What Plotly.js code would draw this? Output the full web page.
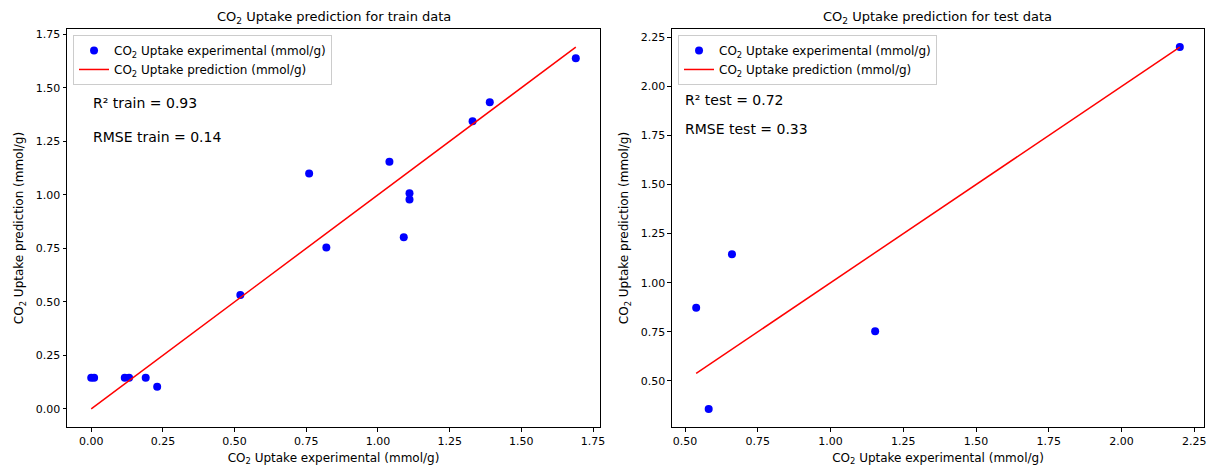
<!DOCTYPE html>
<html>
<head>
<meta charset="utf-8">
<script src="https://cdn.plot.ly/plotly-3.0.1.min.js"></script>
<style>
  html, body { margin: 0; padding: 0; background: #fff; }
  #chart { width: 1216px; height: 468px; }
</style>
</head>
<body>
<div id="chart"></div>
<script>
// Train set: experimental vs predicted CO2 uptake (mmol/g)
const trainExperimental = [0.00, 0.01, 0.117, 0.132, 0.19, 0.23, 0.52, 0.76, 0.82, 1.04, 1.09, 1.11, 1.11, 1.33, 1.39, 1.69];
const trainPredicted    = [0.145, 0.145, 0.145, 0.145, 0.145, 0.104, 0.532, 1.099, 0.754, 1.155, 0.802, 1.007, 0.978, 1.344, 1.432, 1.638];

// Test set
const testExperimental = [0.538, 0.581, 0.661, 1.153, 2.20];
const testPredicted    = [0.872, 0.357, 1.145, 0.753, 2.20];

// Ideal prediction line (y = x) spanning each set
const trainLineX = [0.00, 1.69];
const trainLineY = [0.00, 1.69];
const testLineX  = [0.538, 2.20];
const testLineY  = [0.538, 2.20];

const trainTicks = [0.00, 0.25, 0.50, 0.75, 1.00, 1.25, 1.50, 1.75];
const testTicks  = [0.50, 0.75, 1.00, 1.25, 1.50, 1.75, 2.00, 2.25];

const trainStats = ['R² train = 0.93', 'RMSE train = 0.14'];
const testStats  = ['R² test = 0.72', 'RMSE test = 0.33'];

const FONT = 'DejaVu Sans, sans-serif';
const expName  = 'CO<sub>2</sub> Uptake experimental (mmol/g)';
const predName = 'CO<sub>2</sub> Uptake prediction (mmol/g)';

function padRange(lo, hi) {
  const m = (hi - lo) * 0.05;
  return [lo - m, hi + m];
}

const traces = [
  { x: trainExperimental, y: trainPredicted, type: 'scatter', mode: 'markers', name: expName,
    marker: { color: '#0000ff', size: 8 }, xaxis: 'x', yaxis: 'y', legend: 'legend' },
  { x: trainLineX, y: trainLineY, type: 'scatter', mode: 'lines', name: predName,
    line: { color: '#ff0000', width: 1.5 }, xaxis: 'x', yaxis: 'y', legend: 'legend' },
  { x: testExperimental, y: testPredicted, type: 'scatter', mode: 'markers', name: expName,
    marker: { color: '#0000ff', size: 8 }, xaxis: 'x2', yaxis: 'y2', legend: 'legend2' },
  { x: testLineX, y: testLineY, type: 'scatter', mode: 'lines', name: predName,
    line: { color: '#ff0000', width: 1.5 }, xaxis: 'x2', yaxis: 'y2', legend: 'legend2' }
];

const trainLo = Math.min(...trainExperimental, ...trainLineX);
const trainHi = Math.max(...trainExperimental, ...trainLineX);
const trainYLo = Math.min(...trainPredicted, ...trainLineY);
const trainYHi = Math.max(...trainPredicted, ...trainLineY);
const testLo = Math.min(...testExperimental, ...testLineX);
const testHi = Math.max(...testExperimental, ...testLineX);
const testYLo = Math.min(...testPredicted, ...testLineY);
const testYHi = Math.max(...testPredicted, ...testLineY);

function axisStyle(extra) {
  return Object.assign({
    showline: true, mirror: true, linecolor: '#000', linewidth: 1,
    ticks: 'outside', ticklen: 3.5, tickwidth: 1, tickcolor: '#000',
    showgrid: false, zeroline: false, automargin: false,
    tickformat: '.2f',
    tickfont: { family: FONT, size: 11, color: '#000' }
  }, extra);
}

const titleFont = { family: FONT, size: 12, color: '#000' };
const legendStyle = {
  xanchor: 'left', yanchor: 'top',
  bgcolor: 'rgba(255,255,255,0.8)', bordercolor: '#cccccc', borderwidth: 1,
  font: { family: FONT, size: 12, color: '#000' }
};

const layout = {
  width: 1216, height: 468,
  margin: { l: 67, r: 12, t: 29, b: 41 },
  paper_bgcolor: '#fff', plot_bgcolor: '#fff',
  font: { family: FONT, color: '#000' },
  showlegend: true,
  xaxis: axisStyle({ domain: [0, 0.4688], range: padRange(trainLo, trainHi), tickvals: trainTicks,
    title: { text: 'CO<sub>2</sub> Uptake experimental (mmol/g)', font: titleFont, standoff: 6 } }),
  yaxis: axisStyle({ domain: [0, 1], range: padRange(trainYLo, trainYHi), tickvals: trainTicks,
    title: { text: 'CO<sub>2</sub> Uptake prediction (mmol/g)', font: titleFont, standoff: 9 } }),
  xaxis2: axisStyle({ domain: [0.5321, 1], anchor: 'y2', range: padRange(testLo, testHi), tickvals: testTicks,
    title: { text: 'CO<sub>2</sub> Uptake experimental (mmol/g)', font: titleFont, standoff: 6 } }),
  yaxis2: axisStyle({ domain: [0, 1], anchor: 'x2', range: padRange(testYLo, testYHi), tickvals: testTicks,
    title: { text: 'CO<sub>2</sub> Uptake prediction (mmol/g)', font: titleFont, standoff: 9 } }),
  legend: Object.assign({ x: 0.0053, y: 0.985 }, legendStyle),
  legend2: Object.assign({ x: 0.5374, y: 0.985 }, legendStyle),
  annotations: [
    { text: 'CO<sub>2</sub> Uptake prediction for train data', xref: 'paper', yref: 'paper',
      x: 0.2344, y: 1.030, xanchor: 'center', yanchor: 'middle', showarrow: false,
      font: { family: FONT, size: 13, color: '#000' } },
    { text: 'CO<sub>2</sub> Uptake prediction for test data', xref: 'paper', yref: 'paper',
      x: 0.766, y: 1.030, xanchor: 'center', yanchor: 'middle', showarrow: false,
      font: { family: FONT, size: 13, color: '#000' } },
    { text: trainStats[0], xref: 'paper', yref: 'paper', x: 0.021, y: 0.815,
      xanchor: 'left', yanchor: 'middle', showarrow: false, font: { family: FONT, size: 14, color: '#000' } },
    { text: trainStats[1], xref: 'paper', yref: 'paper', x: 0.021, y: 0.729,
      xanchor: 'left', yanchor: 'middle', showarrow: false, font: { family: FONT, size: 14, color: '#000' } },
    { text: testStats[0], xref: 'paper', yref: 'paper', x: 0.5415, y: 0.822,
      xanchor: 'left', yanchor: 'middle', showarrow: false, font: { family: FONT, size: 14, color: '#000' } },
    { text: testStats[1], xref: 'paper', yref: 'paper', x: 0.5415, y: 0.749,
      xanchor: 'left', yanchor: 'middle', showarrow: false, font: { family: FONT, size: 14, color: '#000' } }
  ]
};

Plotly.newPlot('chart', traces, layout, { staticPlot: true, displayModeBar: false });
</script>
</body>
</html>
